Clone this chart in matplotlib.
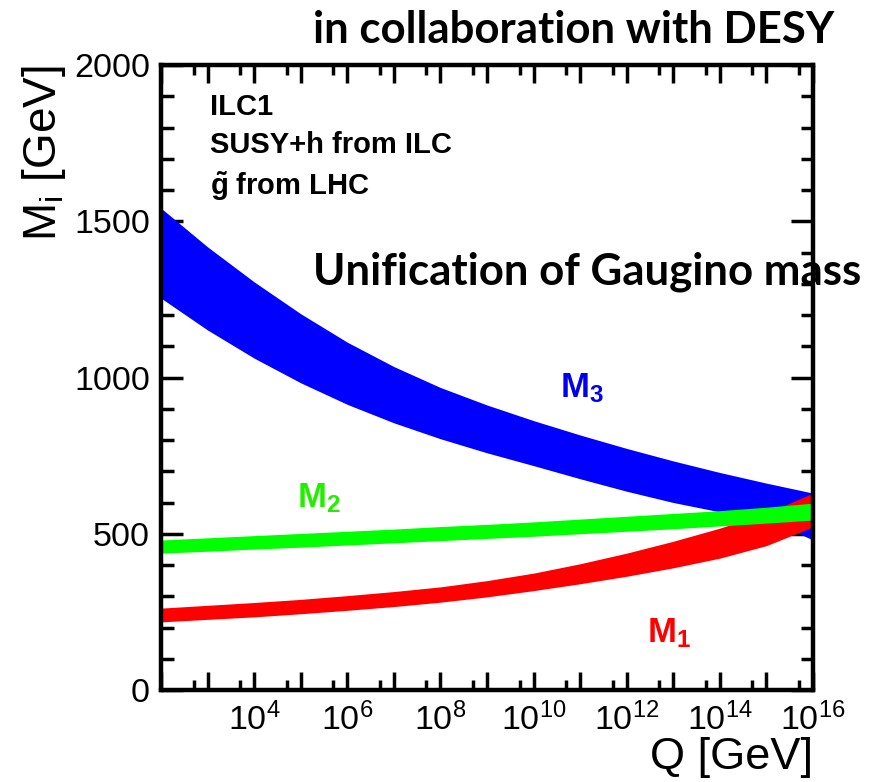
import numpy as np
import matplotlib
matplotlib.use('Agg')
import matplotlib.pyplot as plt
from matplotlib.ticker import FixedLocator, FuncFormatter

plt.rcParams['font.family'] = ['Liberation Sans', 'DejaVu Sans']
plt.rcParams['mathtext.fontset'] = 'custom'
plt.rcParams['mathtext.rm'] = 'Liberation Sans'
plt.rcParams['mathtext.it'] = 'Liberation Sans:italic'
plt.rcParams['mathtext.bf'] = 'Liberation Sans:bold'

# log10(Q / GeV) sample points
log_q = [2, 3, 4, 5, 6, 7, 8, 9, 10, 11, 12, 13, 14, 15, 16]

# M3 band (blue)
m3_low = [1254, 1152, 1062, 983, 914, 855, 804, 759, 718, 676, 636, 600, 570, 548, 480]
m3_high = [1542, 1418, 1306, 1204, 1113, 1035, 968, 912, 862, 816, 773, 733, 696, 662, 630]

# M2 band (green)
m2_low = [438, 444, 451, 457, 464, 471, 478, 485, 492, 500, 508, 516, 525, 534, 544]
m2_high = [480, 487, 494, 501, 508, 515, 523, 530, 538, 547, 556, 565, 574, 585, 598]

# M1 band (red)
m1_low = [218, 226, 234, 244, 255, 267, 281, 298, 318, 340, 364, 391, 422, 462, 522]
m1_high = [262, 271, 280, 290, 302, 315, 330, 350, 374, 404, 438, 476, 518, 566, 630]

q = 10.0 ** np.array(log_q)

fig = plt.figure(figsize=(8.87, 7.82), dpi=100)
ax = fig.add_axes([161/887, 1 - 690/782, (813 - 161)/887, (690 - 65)/782])

ax.fill_between(q, m3_low, m3_high, color='#0000ff', lw=0, zorder=2)
ax.fill_between(q, m1_low, m1_high, color='#ff0000', lw=0, zorder=3)
ax.fill_between(q, m2_low, m2_high, color='#00ff00', lw=0, zorder=4)

ax.set_xscale('log')
ax.set_xlim(1e2, 1e16)
ax.set_ylim(0, 2000)

ax.xaxis.set_major_locator(FixedLocator(10.0 ** np.arange(2, 17)))
ax.xaxis.set_minor_locator(FixedLocator(5 * 10.0 ** np.arange(2, 16)))
ax.xaxis.set_major_formatter(FuncFormatter(
    lambda v, p: r'$10^{%d}$' % round(np.log10(v)) if round(np.log10(v)) % 2 == 0 and v > 500 else ''))
ax.yaxis.set_major_locator(FixedLocator([0, 500, 1000, 1500, 2000]))
ax.yaxis.set_minor_locator(FixedLocator(np.arange(0, 2001, 100)))

ax.tick_params(which='both', direction='in', top=True, right=True, labelsize=24.5)
ax.tick_params(axis='x', which='major', length=13, width=2.5, pad=9)
ax.tick_params(axis='x', which='minor', length=7, width=2.5)
ax.tick_params(axis='y', which='major', length=16, width=2.5, pad=8)
ax.tick_params(axis='y', which='minor', length=9, width=2.5)
for s in ax.spines.values():
    s.set_linewidth(3.2)
    s.set_zorder(6)

ax.set_xlabel('Q [GeV]', fontsize=32.5, loc='right', labelpad=0)
ax.set_ylabel(r'M$_\mathregular{i}$ [GeV]', fontsize=33, loc='top', labelpad=4)

ax.text(10 ** 10.57, 938, r'$\mathbf{M_3}$', color='#0000ee', fontsize=25, va='baseline', zorder=7)
ax.text(10 ** 4.92, 586, r'$\mathbf{M_2}$', color='#22ee00', fontsize=25, va='baseline', zorder=7)
ax.text(10 ** 12.44, 154, r'$\mathbf{M_1}$', color='#ff0000', fontsize=25, va='baseline', zorder=7)

ax.text(0.075, 0.92, 'ILC1', transform=ax.transAxes, fontsize=21, weight='bold', va='baseline')
ax.text(0.075, 0.859, 'SUSY+h from ILC', transform=ax.transAxes, fontsize=21, weight='bold', va='baseline')
ax.text(0.075, 0.792, r'$\mathbf{\tilde{g}}$ from LHC', transform=ax.transAxes, fontsize=21, weight='bold', va='baseline')

fig.text(313/887, 1 - 43/782, 'in collaboration with DESY', family='Lato', weight='bold',
         fontsize=31.5, va='baseline')
fig.text(313/887, 1 - 285/782, 'Unification of Gaugino mass', family='Lato', weight='bold',
         fontsize=31.5, va='baseline', zorder=10)

fig.savefig('out.png', dpi=100)
